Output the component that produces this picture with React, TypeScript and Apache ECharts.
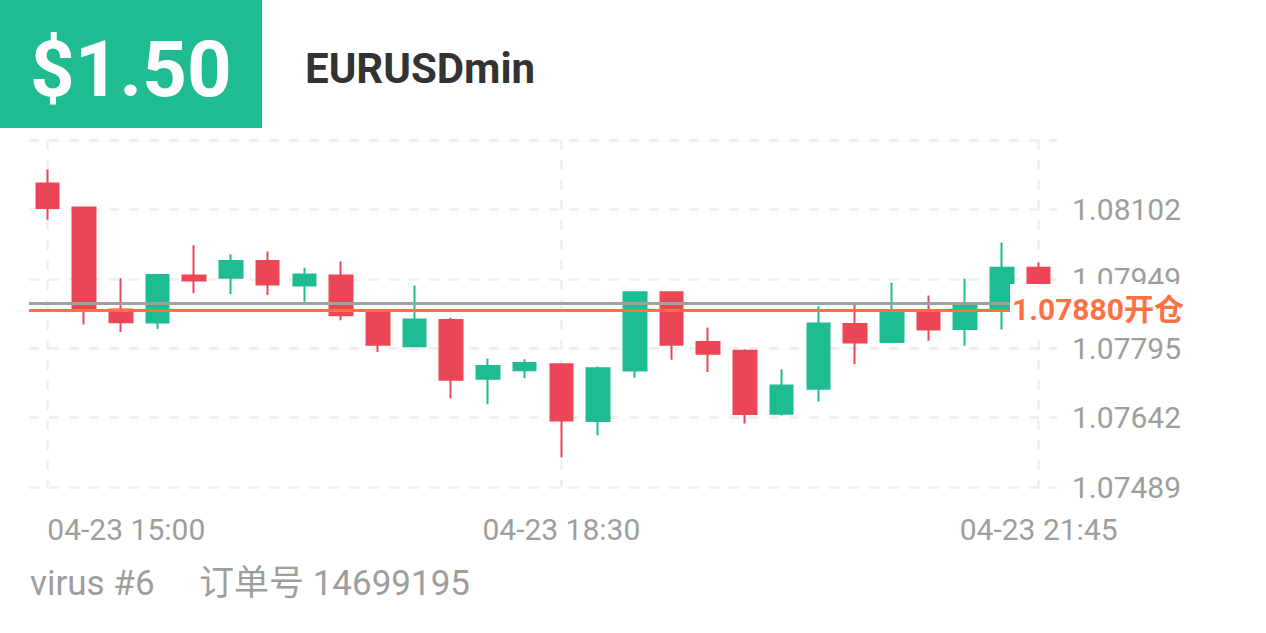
import React, { useEffect, useRef } from "react";
import * as echarts from "echarts";

// ---- data ----
const CATEGORIES = [
  "04-23 15:00", "04-23 15:15", "04-23 15:30", "04-23 15:45",
  "04-23 16:00", "04-23 16:15", "04-23 16:30", "04-23 16:45",
  "04-23 17:00", "04-23 17:15", "04-23 17:30", "04-23 17:45",
  "04-23 18:00", "04-23 18:15", "04-23 18:30", "04-23 18:45",
  "04-23 19:00", "04-23 19:15", "04-23 19:30", "04-23 19:45",
  "04-23 20:00", "04-23 20:15", "04-23 20:30", "04-23 20:45",
  "04-23 21:00", "04-23 21:15", "04-23 21:30", "04-23 21:45",
];
const OPEN = [1.08159, 1.08106, 1.07881, 1.07852, 1.07956, 1.07951, 1.07988, 1.07934, 1.07956, 1.07876, 1.078, 1.07858, 1.07728, 1.07747, 1.0776, 1.07635, 1.07746, 1.07919, 1.07809, 1.0779, 1.07651, 1.07706, 1.07849, 1.07809, 1.07879, 1.07838, 1.07884, 1.07973];
const CLOSE = [1.08105, 1.07883, 1.07853, 1.07957, 1.07945, 1.07988, 1.07936, 1.07958, 1.07868, 1.07803, 1.07859, 1.07726, 1.07756, 1.07763, 1.07636, 1.07751, 1.07919, 1.07803, 1.07783, 1.0765, 1.07713, 1.0785, 1.07808, 1.07878, 1.07837, 1.0789, 1.07973, 1.07895];
const LOW = [1.08079, 1.07848, 1.07831, 1.07838, 1.07917, 1.07915, 1.07913, 1.07898, 1.07857, 1.07787, 1.078, 1.07685, 1.07672, 1.07729, 1.07554, 1.07603, 1.0773, 1.0777, 1.07743, 1.07629, 1.07647, 1.07678, 1.0776, 1.07809, 1.07812, 1.07801, 1.07837, 1.0789];
const HIGH = [1.0819, 1.08106, 1.0795, 1.0796, 1.08023, 1.08003, 1.08009, 1.07973, 1.07987, 1.07877, 1.07934, 1.07863, 1.07772, 1.07771, 1.0776, 1.07755, 1.07919, 1.07919, 1.07841, 1.07793, 1.07749, 1.07888, 1.07893, 1.0794, 1.07912, 1.07949, 1.08029, 1.07985];
const X_LABEL_INDEXES = [0, 14, 27];
const Y_BASE = 1.07489;
const Y_STEP = 0.0015325;
const Y_STEPS = 5;
const Y_TICK_LABELS = ["1.07489", "1.07642", "1.07795", "1.07949", "1.08102", ""];
const OPEN_POSITION = 1.0788;
const OPEN_LABEL = "1.07880开仓";
const LAST_PRICE = 1.07895;
const PROFIT = "$1.50";
const SYMBOL = "EURUSDmin";
const FOOTER_LEFT = "virus #6";
const FOOTER_RIGHT = "订单号 14699195";

const UP = "#1FBB92";
const DOWN = "#EB4655";
const FONT = "Roboto, 'Noto Sans CJK SC', sans-serif";

export default function App() {
  const ref = useRef<HTMLDivElement>(null);
  useEffect(() => {
    if (!ref.current) return;
    const chart = echarts.init(ref.current, undefined, { renderer: "svg" });
    const candles = CATEGORIES.map((_, i) => [
      OPEN[i] - Y_BASE,
      CLOSE[i] - Y_BASE,
      LOW[i] - Y_BASE,
      HIGH[i] - Y_BASE,
    ]);
    chart.setOption({
      animation: false,
      backgroundColor: "#ffffff",
      textStyle: { fontFamily: FONT },
      grid: { left: 29, right: 209, top: 140, bottom: 146, containLabel: false },
      xAxis: {
        type: "category",
        data: CATEGORIES,
        boundaryGap: true,
        axisLine: { show: false },
        axisTick: { show: false },
        axisLabel: {
          interval: (i: number) => X_LABEL_INDEXES.includes(i),
          color: "#9e9e9e",
          fontSize: 30,
          fontFamily: FONT,
          margin: 27,
          alignMinLabel: "left",
        },
        splitLine: {
          show: true,
          interval: (i: number) => X_LABEL_INDEXES.includes(i),
          alignWithLabel: true,
          lineStyle: { color: "#eeeeee", width: 2.5, type: [10, 10] },
        },
      },
      yAxis: {
        type: "value",
        position: "right",
        min: 0,
        max: Y_STEP * Y_STEPS,
        interval: Y_STEP,
        scale: false,
        axisLine: { show: false },
        axisTick: { show: false },
        axisLabel: {
          color: "#9e9e9e",
          fontSize: 30,
          fontFamily: FONT,
          margin: 15,
          formatter: (_v: number, index: number) => Y_TICK_LABELS[index] ?? "",
        },
        splitLine: {
          show: true,
          lineStyle: { color: "#eeeeee", width: 2.5, type: [10, 10] },
        },
      },
      series: [
        {
          type: "candlestick",
          data: candles,
          barWidth: 23,
          itemStyle: {
            color: UP,
            color0: DOWN,
            borderColor: UP,
            borderColor0: DOWN,
            borderWidth: 2,
          },
          markLine: {
            silent: true,
            symbol: ["none", "none"],
            animation: false,
            precision: 10,
            data: [
              {
                yAxis: LAST_PRICE - Y_BASE,
                lineStyle: { color: "#a0a0a0", width: 3, type: "solid" },
                label: { show: false },
              },
              {
                yAxis: OPEN_POSITION - Y_BASE,
                lineStyle: { color: "#FF7043", width: 3, type: "solid" },
                label: {
                  show: true,
                  position: "end",
                  distance: -47,
                  formatter: OPEN_LABEL,
                  color: "#FF7043",
                  fontSize: 30,
                  fontWeight: "bold",
                  fontFamily: FONT,
                  backgroundColor: "#ffffff",
                  padding: [11, 2, 11, 2],
                  lineHeight: 30,
                },
              },
            ],
          },
        },
      ],
      graphic: [
        {
          type: "rect",
          shape: { x: 0, y: 0, width: 262, height: 128 },
          style: { fill: UP },
          z: 10,
        },
        {
          type: "text",
          x: 30,
          y: 69,
          z: 11,
          style: {
            text: PROFIT,
            fill: "#ffffff",
            fontSize: 78,
            fontWeight: "bold",
            fontFamily: FONT,
            verticalAlign: "middle",
            align: "left",
          },
        },
        {
          type: "text",
          x: 305,
          y: 68,
          z: 11,
          style: {
            text: SYMBOL,
            fill: "#333333",
            fontSize: 42,
            fontWeight: "bold",
            fontFamily: FONT,
            verticalAlign: "middle",
            align: "left",
          },
        },
        {
          type: "text",
          x: 30,
          y: 583,
          z: 11,
          style: {
            text: FOOTER_LEFT,
            fill: "#9e9e9e",
            fontSize: 35,
            fontFamily: FONT,
            verticalAlign: "middle",
            align: "left",
          },
        },
        {
          type: "text",
          x: 199,
          y: 583,
          z: 11,
          style: {
            text: FOOTER_RIGHT,
            fill: "#9e9e9e",
            fontSize: 35,
            fontFamily: FONT,
            verticalAlign: "middle",
            align: "left",
          },
        },
      ],
    });
    return () => chart.dispose();
  }, []);
  return (
    <div
      ref={ref}
      style={{ position: "fixed", left: 0, top: 0, width: 1266, height: 633, background: "#fff" }}
    />
  );
}
